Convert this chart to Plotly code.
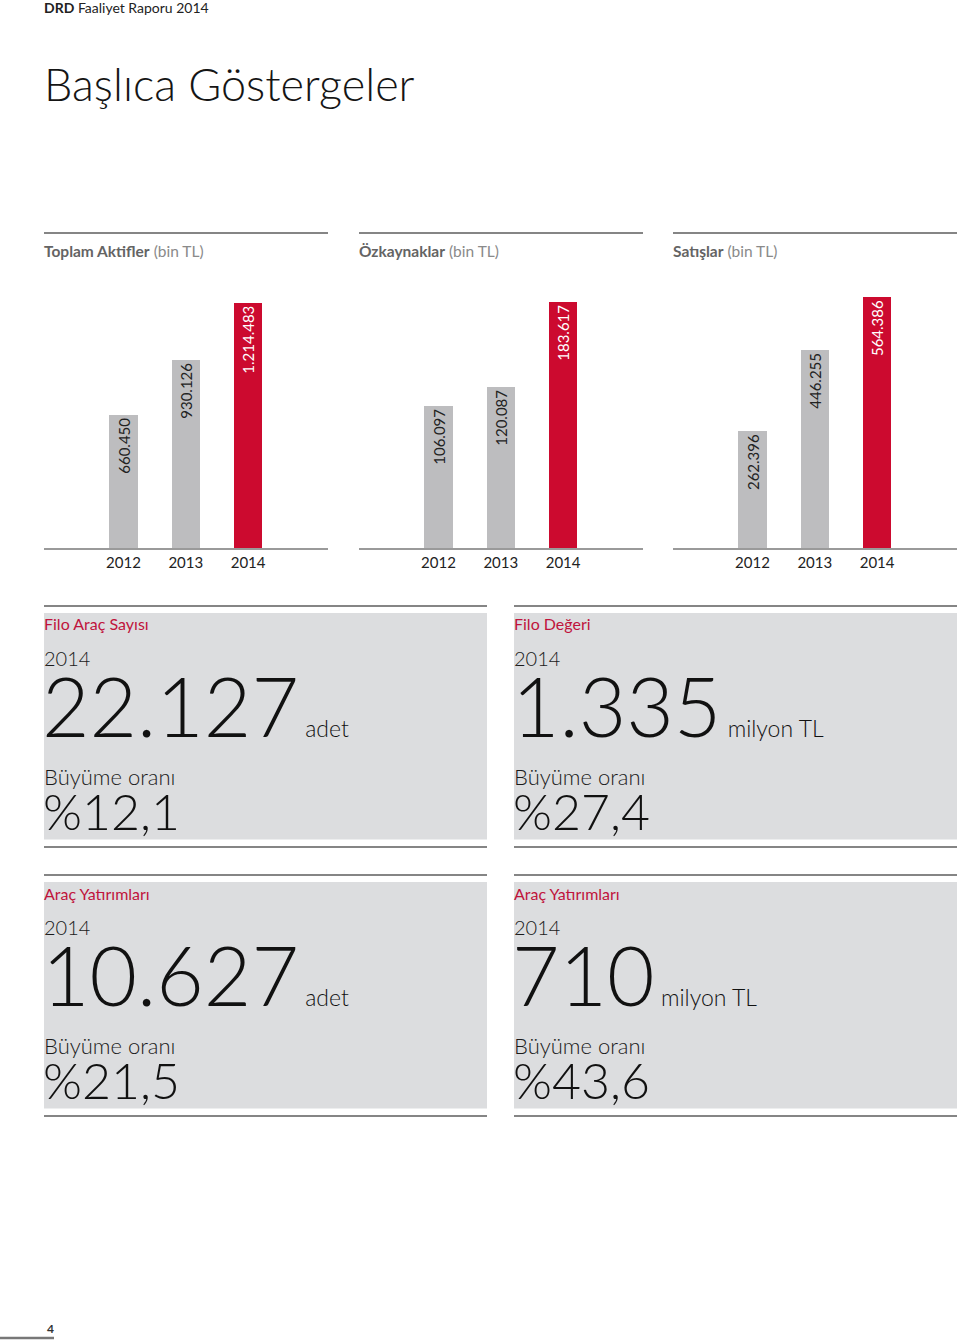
import plotly.graph_objects as go

# ---------------- data ----------------
years = ["2012", "2013", "2014"]
chart_titles = ["Toplam Aktifler", "Özkaynaklar", "Satışlar"]
chart_units = ["(bin TL)", "(bin TL)", "(bin TL)"]
toplam_aktifler = [660450, 930126, 1214483]
ozkaynaklar = [106097, 120087, 183617]
satislar = [262396, 446255, 564386]

kpi_titles = ["Filo Araç Sayısı", "Filo Değeri", "Araç Yatırımları", "Araç Yatırımları"]
kpi_year = ["2014", "2014", "2014", "2014"]
kpi_values = ["22.127", "1.335", "10.627", "710"]
kpi_units = ["adet", "milyon TL", "adet", "milyon TL"]
kpi_growth_label = ["Büyüme oranı"] * 4
kpi_growth = ["%12,1", "%27,4", "%21,5", "%43,6"]

header_bold = "DRD"
header_text = "Faaliyet Raporu 2014"
page_title = "Başlıca Göstergeler"
page_number = "4"

# ---------------- style ----------------
W, H = 960, 1342
FONT = "Lato"
GRAY_BAR = "#bdbdbf"
RED = "#cc0a2f"
RED_TEXT = "#c0143c"
RULE = "#858585"
BOX = "#dcdddf"


def px(x):
    return x / W


def py(y):
    return 1 - y / H


series = [toplam_aktifler, ozkaynaklar, satislar]
panel_x = [(44, 328), (359, 643), (673, 957)]
bar_tops = [302.7, 301.7, 297.0]
baseline = 548
first_bar_offset = 79.5
bar_step = 62.3

fig = go.Figure()
shapes = []
annotations = []

for i, vals in enumerate(series):
    n = i + 1
    xa = "x" if n == 1 else f"x{n}"
    ya = "y" if n == 1 else f"y{n}"
    colors = [GRAY_BAR, GRAY_BAR, RED]
    tcolors = ["#222222", "#222222", "#ffffff"]
    fig.add_trace(go.Bar(
        x=[0, 1, 2], y=vals, xaxis=xa, yaxis=ya,
        marker=dict(color=colors, line=dict(width=0)),
        width=0.45,
        texttemplate="%{y:,d}",
        textposition="inside",
        insidetextanchor="end",
        textangle=-90,
        constraintext="none",
        insidetextfont=dict(family=FONT, size=15, color=tcolors),
        hoverinfo="skip",
    ))
    x0, x1 = panel_x[i]
    wpx = x1 - x0
    rng = [-first_bar_offset / bar_step, (wpx - first_bar_offset) / bar_step]
    fig.layout[f"xaxis{'' if n == 1 else n}"] = dict(
        domain=[px(x0), px(x1)], range=rng, anchor=ya,
        tickmode="array", tickvals=[0, 1, 2], ticktext=years,
        showline=True, linecolor="#9a9a9a", linewidth=1.5,
        showgrid=False, zeroline=False, ticks="",
        tickfont=dict(family=FONT, size=15, color="#222222"),
        fixedrange=True,
    )
    fig.layout[f"yaxis{'' if n == 1 else n}"] = dict(
        domain=[py(baseline), py(bar_tops[i])], range=[0, max(vals)],
        anchor=xa, visible=False, fixedrange=True,
    )
    # top rule
    shapes.append(dict(type="line", xref="paper", yref="paper",
                       x0=px(x0), x1=px(x1), y0=py(233), y1=py(233),
                       line=dict(color=RULE, width=2)))
    annotations.append(dict(
        xref="paper", yref="paper", x=px(x0 - 2), y=py(251),
        xanchor="left", yanchor="middle", showarrow=False,
        text=f"<span style='color:#646464'><b>{chart_titles[i]}</b></span> "
             f"<span style='color:#8a8a8a'>{chart_units[i]}</span>",
        font=dict(family=FONT, size=15.5),
    ))

# header & title
annotations.append(dict(
    xref="paper", yref="paper", x=px(42), y=py(8), xanchor="left", yanchor="middle",
    showarrow=False, text=f"<b>{header_bold}</b> {header_text}",
    font=dict(family=FONT, size=14, color="#222222")))
annotations.append(dict(
    xref="paper", yref="paper", x=px(42), y=py(84), xanchor="left", yanchor="middle",
    showarrow=False, text=page_title,
    font=dict(family=FONT, size=45, color="#151515", weight=300)))

# KPI boxes
box_left = [44, 514, 44, 514]
box_top = [606, 606, 875, 875]
box_w = 443
for k in range(4):
    L, T = box_left[k], box_top[k]
    shapes.append(dict(type="rect", xref="paper", yref="paper",
                       x0=px(L), x1=px(L + box_w), y0=py(T + 233.5), y1=py(T + 7),
                       fillcolor=BOX, line=dict(width=0), layer="below"))
    for yy in (T, T + 241):
        shapes.append(dict(type="line", xref="paper", yref="paper",
                           x0=px(L), x1=px(L + box_w), y0=py(yy), y1=py(yy),
                           line=dict(color=RULE, width=2)))
    annotations += [
        dict(x=px(L - 2), y=py(T + 18), text=kpi_titles[k],
             font=dict(family=FONT, size=16, color=RED_TEXT)),
        dict(x=px(L - 2), y=py(T + 52), text=kpi_year[k],
             font=dict(family=FONT, size=20, color="#1a1a1a", weight=300)),
        dict(x=px(L - 4), y=py(T + 99),
             text=f"{kpi_values[k]}<span style='font-size:23px'> {kpi_units[k]}</span>",
             font=dict(family=FONT, size=82, color="#111111", weight=300)),
        dict(x=px(L - 2), y=py(T + 170), text=kpi_growth_label[k],
             font=dict(family=FONT, size=22, color="#1a1a1a", weight=300)),
        dict(x=px(L - 3), y=py(T + 205), text=kpi_growth[k],
             font=dict(family=FONT, size=50, color="#111111", weight=300)),
    ]
    for a in annotations[-5:]:
        a.update(xref="paper", yref="paper", xanchor="left", yanchor="middle", showarrow=False)

# page number
annotations.append(dict(
    xref="paper", yref="paper", x=px(50), y=py(1328), xanchor="center", yanchor="middle",
    showarrow=False, text=f"<b>{page_number}</b>",
    font=dict(family=FONT, size=12, color="#333333")))
shapes.append(dict(type="line", xref="paper", yref="paper",
                   x0=0, x1=px(54), y0=py(1338), y1=py(1338),
                   line=dict(color="#777777", width=2.5)))

fig.update_layout(
    width=W, height=H, margin=dict(l=0, r=0, t=0, b=0),
    paper_bgcolor="white", plot_bgcolor="rgba(0,0,0,0)",
    showlegend=False, separators=",.",
    shapes=shapes, annotations=annotations,
    bargap=0,
)

fig.write_html(
    "out.html",
    config={"displayModeBar": False},
    post_script="document.body.style.margin='0';document.body.style.padding='0';document.body.style.overflow='hidden';",
)
